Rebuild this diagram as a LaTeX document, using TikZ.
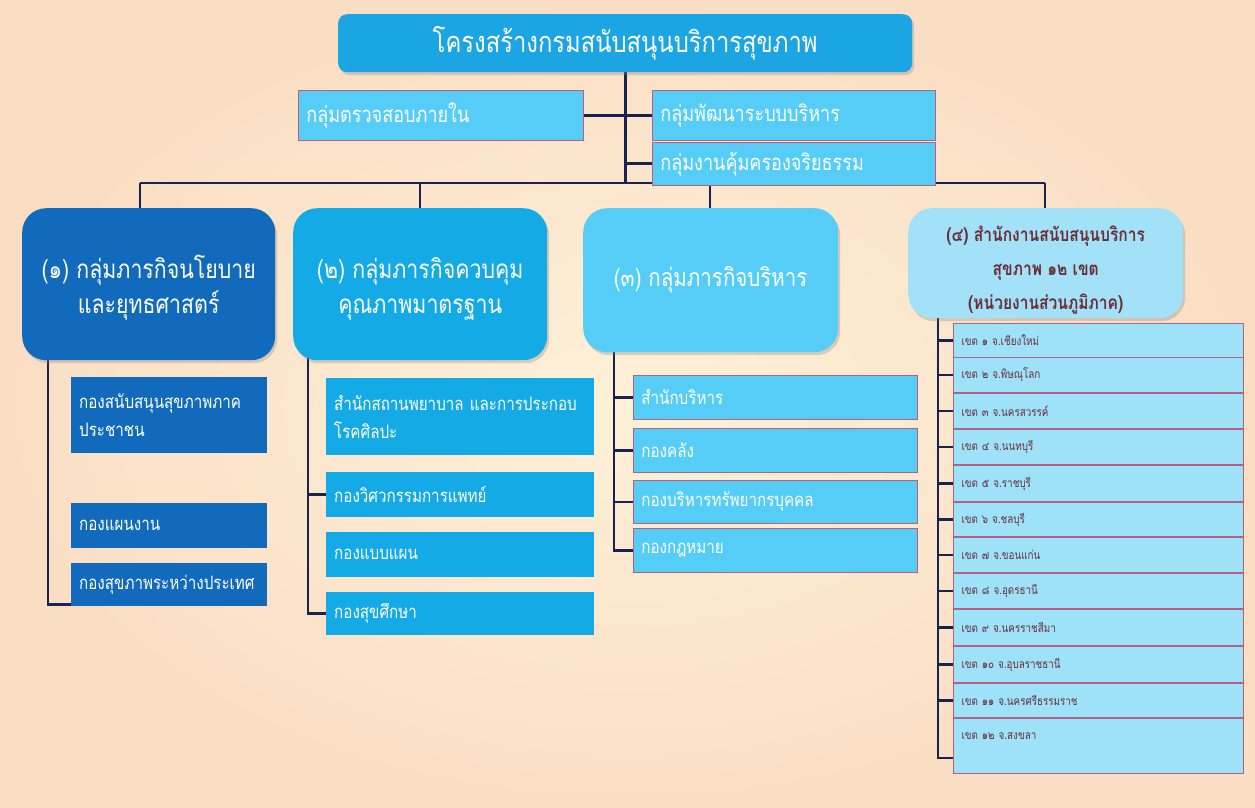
\documentclass[tikz,border=0pt]{standalone}
\usepackage{fontspec}
\newfontfamily\thai[Script=Thai,FakeStretch=0.82]{Loma}
\usetikzlibrary{shadows,calc}
\pgfdeclarelayer{back}
\pgfdeclarelayer{lines}
\pgfsetlayers{back,lines,main}
\definecolor{bgA}{RGB}{253,241,216}
\definecolor{bgB}{RGB}{250,222,196}
\definecolor{topc}{RGB}{27,165,226}
\definecolor{cyanL}{RGB}{85,205,247}
\definecolor{blueD}{RGB}{17,106,188}
\definecolor{blueM}{RGB}{20,170,230}
\definecolor{paleB}{RGB}{163,225,248}
\definecolor{regB}{RGB}{158,226,250}
\definecolor{navy}{RGB}{25,35,80}
\definecolor{maroon}{RGB}{105,45,55}
\definecolor{edgeP}{RGB}{185,95,130}
\begin{document}
\begin{tikzpicture}[x=1pt,y=-1pt,
  font=\thai,
  conn/.style={draw=navy,line width=2.8pt},
  big/.style={rounded corners=24pt, anchor=north west, inner sep=0pt, align=center,
    text=white, drop shadow={shadow xshift=2pt,shadow yshift=-3pt,opacity=0.3}},
  cbox/.style={anchor=north west, inner xsep=8pt, inner ysep=0pt, align=left, text=white},
  midbox/.style={cbox, fill=cyanL, draw=edgeP, line width=0.7pt, font=\thai\fontsize{22}{26}\selectfont},
  kid/.style={cbox, font=\thai\fontsize{18.5}{28}\selectfont},
  reg/.style={cbox, fill=regB, draw=edgeP, line width=1pt, text=maroon,
    minimum width=290, text width=274, font=\thai\fontsize{12}{14}\selectfont},
]
\begin{pgfonlayer}{back}
\shade[inner color=bgA, outer color=bgB] (0,0) rectangle (1255,807);
\end{pgfonlayer}
\useasboundingbox (0,0) rectangle (1255,807);

% top
\node[big, rounded corners=9pt, fill=topc, minimum width=574, minimum height=58,
  font=\thai\fontsize{29}{30}\selectfont] (top) at (338,14) {โครงสร้างกรมสนับสนุนบริการสุขภาพ};

% second row
\node[midbox, minimum width=285, minimum height=50, text width=269] (ia) at (298,90) {กลุ่มตรวจสอบภายใน};
\node[midbox, minimum width=283, minimum height=50, text width=267] (pa) at (652,90) {กลุ่มพัฒนาระบบบริหาร};
\node[midbox, minimum width=283, minimum height=43, text width=267] (pb) at (652,142) {กลุ่มงานคุ้มครองจริยธรรม};

% groups
\node[big, fill=blueD, minimum width=253, minimum height=152,
  font=\thai\fontsize{26}{35}\selectfont] (g1) at (22,208) {\rule{0pt}{30pt}(๑) กลุ่มภารกิจนโยบาย\\และยุทธศาสตร์};
\node[big, fill=blueM, minimum width=254, minimum height=152,
  font=\thai\fontsize{26}{35}\selectfont] (g2) at (293,208) {\rule{0pt}{30pt}(๒) กลุ่มภารกิจควบคุม\\คุณภาพมาตรฐาน};
\node[big, fill=cyanL, minimum width=255, minimum height=144,
  font=\thai\fontsize{25}{30}\selectfont] (g3) at (583,208) {(๓) กลุ่มภารกิจบริหาร};
\node[big, fill=paleB, text=maroon, minimum width=275, minimum height=110,
  font=\thai\bfseries\fontsize{19}{34}\selectfont] (g4) at (908,208) {\rule{0pt}{30pt}(๔) สำนักงานสนับสนุนบริการ\\สุขภาพ ๑๒ เขต\\(หน่วยงานส่วนภูมิภาค)};

% group 1 children
\node[kid, fill=blueD, minimum width=196, minimum height=76, text width=180] (c11) at (71,377) {กองสนับสนุนสุขภาพภาค\\ประชาชน};
\node[kid, fill=blueD, minimum width=196, minimum height=45, text width=180] (c12) at (71,503) {กองแผนงาน};
\node[kid, fill=blueD, minimum width=196, minimum height=43, text width=180] (c13) at (71,563) {กองสุขภาพระหว่างประเทศ};

% group 2 children
\node[kid, fill=blueM, minimum width=266, minimum height=77, text width=252] (c21) at (326,378) {สำนักสถานพยาบาล และการประกอบ\\โรคศิลปะ};
\node[kid, fill=blueM, minimum width=266, minimum height=45, text width=252] (c22) at (326,472) {กองวิศวกรรมการแพทย์};
\node[kid, fill=blueM, minimum width=266, minimum height=45, text width=252] (c23) at (326,532) {กองแบบแผน};
\node[kid, fill=blueM, minimum width=266, minimum height=43, text width=252] (c24) at (326,592) {กองสุขศึกษา};

% group 3 children
\node[kid, fill=cyanL, draw=edgeP, line width=0.8pt, minimum width=284, minimum height=44, text width=268] (c31) at (633,375) {สำนักบริหาร};
\node[kid, fill=cyanL, draw=edgeP, line width=0.8pt, minimum width=284, minimum height=44, text width=268] (c32) at (633,428) {กองคลัง};
\node[kid, fill=cyanL, draw=edgeP, line width=0.8pt, minimum width=284, minimum height=43, text width=268] (c33) at (633,480) {กองบริหารทรัพยากรบุคคล};
\node[kid, fill=cyanL, draw=edgeP, line width=0.8pt, minimum width=284, minimum height=44, text width=268] (c34) at (633,528) {กองกฎหมาย};

% group 4 children (regions)
\node[reg, minimum height=34] (r1) at (953,323) {เขต ๑ จ.เชียงใหม่};
\node[reg, minimum height=35] (r2) at (953,357) {เขต ๒ จ.พิษณุโลก};
\node[reg, minimum height=35] (r3) at (953,393) {เขต ๓ จ.นครสวรรค์};
\node[reg, minimum height=35] (r4) at (953,429) {เขต ๔ จ.นนทบุรี};
\node[reg, minimum height=36] (r5) at (953,465) {เขต ๕ จ.ราชบุรี};
\node[reg, minimum height=34] (r6) at (953,502) {เขต ๖ จ.ชลบุรี};
\node[reg, minimum height=35] (r7) at (953,537) {เขต ๗ จ.ขอนแก่น};
\node[reg, minimum height=35] (r8) at (953,573) {เขต ๘ จ.อุดรธานี};
\node[reg, minimum height=36] (r9) at (953,609) {เขต ๙ จ.นครราชสีมา};
\node[reg, minimum height=36] (r10) at (953,646) {เขต ๑๐ จ.อุบลราชธานี};
\node[reg, minimum height=34] (r11) at (953,683) {เขต ๑๑ จ.นครศรีธรรมราช};
\node[reg, minimum height=55, text depth=20pt] (r12) at (953,718) {เขต ๑๒ จ.สงขลา};

% connectors
\begin{pgfonlayer}{lines}
\coordinate (busL) at (140,183);
\coordinate (busR) at (1045,183);
\coordinate (busM) at (top.south |- busL);
\coordinate (d2) at (420,183);
\coordinate (d3) at (710,183);
\draw[conn] (top.south) -- (busM);
\draw[conn] (ia.east) -- (ia.east -| top.south);
\draw[conn] (pa.west) -- (pa.west -| top.south);
\draw[conn] (pb.west) -- (pb.west -| top.south);
\draw[conn] (busL) -- (busR);
\draw[conn] (busL) -- (busL |- g1.north);
\draw[conn] (d2) -- (d2 |- g2.north);
\draw[conn] (d3) -- (d3 |- g3.north);
\draw[conn] (busR) -- (busR |- g4.north);
% spine 1
\coordinate (s1) at (48,350);
\draw[conn] (s1) |- ($(c13.west)+(0,20)$);
\draw[conn] ($(c11.west)+(0,13)$) -- ($(c11.west)+(0,13)$ -| s1);
\draw[conn] ($(c12.west)+(0,4)$) -- ($(c12.west)+(0,4)$ -| s1);
% spine 2
\coordinate (s2) at (308,350);
\draw[conn] (s2) |- (c24.west);
\draw[conn] ($(c21.west)+(0,20)$) -- ($(c21.west)+(0,20)$ -| s2);
\draw[conn] (c22.west) -- (c22.west -| s2);
\draw[conn] ($(c23.west)+(0,3)$) -- ($(c23.west)+(0,3)$ -| s2);
% spine 3
\coordinate (s3) at (614,345);
\draw[conn] (s3) |- (c34.west);
\draw[conn] (c31.west) -- (c31.west -| s3);
\draw[conn] (c32.west) -- (c32.west -| s3);
\draw[conn] (c33.west) -- (c33.west -| s3);
% spine 4
\coordinate (s4) at (938,312);
\draw[conn] (s4) |- ($(r12.west)+(0,12)$);
\foreach \r in {r1,r2,r3,r4,r5,r6,r7,r8,r9,r10,r11}
  \draw[conn] (\r.west) -- (\r.west -| s4);
\end{pgfonlayer}
\end{tikzpicture}
\end{document}
